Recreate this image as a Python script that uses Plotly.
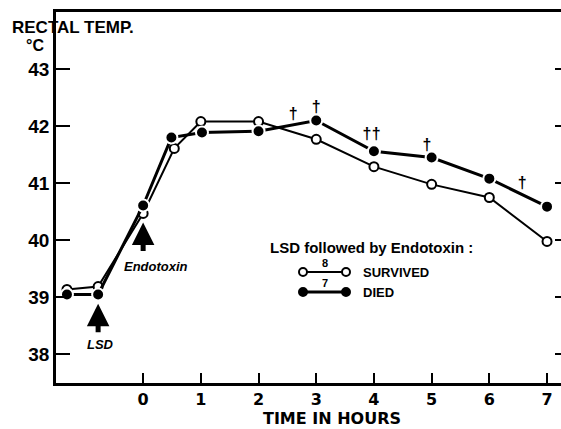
import plotly.graph_objects as go

# ---- data ----
hours_survived = [-1.32, -0.78, 0.0, 0.54, 1.0, 2.0, 3.0, 4.0, 5.0, 6.0, 7.0]
temp_survived = [39.14, 39.19, 40.47, 41.61, 42.08, 42.08, 41.77, 41.29, 40.98, 40.75, 39.98]

hours_died = [-1.32, -0.78, 0.0, 0.49, 1.02, 2.0, 3.0, 4.0, 5.0, 6.0, 7.0]
temp_died = [39.05, 39.05, 40.61, 41.80, 41.89, 41.91, 42.10, 41.56, 41.45, 41.08, 40.59]

death_hours = [2.6, 3.0, 3.88, 4.04, 4.92, 6.57]
death_marks_y = [42.19, 42.31, 41.84, 41.84, 41.66, 40.99]

x_ticks = [0, 1, 2, 3, 4, 5, 6, 7]
y_ticks = [38, 39, 40, 41, 42, 43]

lsd_time = -0.78
endotoxin_time = 0.0

FONT = "Liberation Sans"
FONT2 = "DejaVu Sans"
W, H = 561, 429
L, R, T, B = 56, 0, 12, 46
PW, PH = W - L - R, H - T - B


def px(xp):
    return (xp - L) / PW


def py(yp):
    return (H - B - yp) / PH


fig = go.Figure()

fig.add_trace(go.Scatter(
    x=hours_survived, y=temp_survived, mode="lines+markers",
    line=dict(color="black", width=2),
    marker=dict(symbol="circle", size=9, color="white",
                line=dict(color="black", width=2)),
    showlegend=False, cliponaxis=False))

fig.add_trace(go.Scatter(
    x=hours_died, y=temp_died, mode="lines+markers",
    line=dict(color="black", width=3),
    marker=dict(symbol="circle", size=12, color="black",
                line=dict(color="white", width=2)),
    showlegend=False, cliponaxis=False))

fig.add_trace(go.Scatter(
    x=death_hours, y=death_marks_y, mode="text", text=["†"] * len(death_hours),
    textfont=dict(family=FONT, size=16, color="black", weight="bold"),
    yaxis="y2", showlegend=False))

# arrows for LSD and endotoxin
for t, tip, lab, laby in [(lsd_time, 38.89, "LSD", 38.17),
                          (endotoxin_time, 40.31, "Endotoxin", 39.54)]:
    fig.add_annotation(x=t, y=tip, ax=0, ay=30, xref="x", yref="y",
                       showarrow=True, arrowhead=2, arrowsize=0.9,
                       arrowwidth=5, arrowcolor="black", text="")
    fig.add_annotation(x=t + (0.04 if lab == "LSD" else 0.22), y=laby,
                       xref="x", yref="y", showarrow=False, text=lab,
                       font=dict(family=FONT, size=13, color="black",
                                 style="italic", weight="bold"))

# legend (drawn manually) and axis titles
ann = [
    ("LSD followed by Endotoxin :", 268, 247, 15, "left", FONT),
    ("8", 325, 263, 11, "center", FONT),
    ("7", 325, 283, 11, "center", FONT),
    ("SURVIVED", 361, 272, 13, "left", FONT),
    ("DIED", 361, 292, 13, "left", FONT),
    ("RECTAL TEMP.", 10, 27, 17, "left", FONT),
    ("°C", 24, 45, 16, "left", FONT),
    ("TIME IN HOURS", 332, 419, 16, "center", FONT2),
]
for text, xp, yp, size, anc, fam in ann:
    fig.add_annotation(x=px(xp), y=py(yp), xref="paper", yref="paper",
                       text=text, showarrow=False, xanchor=anc, yanchor="middle",
                       font=dict(family=fam, size=size, color="black",
                                 weight="bold"))

for yp, filled, lw in [(272, False, 2), (292, True, 3)]:
    fig.add_shape(type="line", xref="paper", yref="paper",
                  x0=px(303), x1=px(346), y0=py(yp), y1=py(yp),
                  line=dict(color="black", width=lw))
    for xc in (303, 346):
        fig.add_shape(type="circle", xref="paper", yref="paper",
                      xsizemode="pixel", ysizemode="pixel",
                      xanchor=px(xc), yanchor=py(yp),
                      x0=-4, x1=4, y0=-4, y1=4,
                      fillcolor="black" if filled else "white",
                      line=dict(color="black", width=2))

xr = [-1.51, -1.51 + PW / 57.7]
yr = [37.5, 44.0]

fig.update_layout(
    width=W, height=H,
    margin=dict(l=L, r=R, t=T, b=B, autoexpand=False),
    paper_bgcolor="white", plot_bgcolor="white",
    font=dict(family=FONT, color="black"),
    xaxis=dict(range=xr, tickvals=x_ticks, ticks="inside", ticklen=10,
               tickwidth=2, tickcolor="black", showline=True, linewidth=2.5,
               linecolor="black", mirror=True, showgrid=False, zeroline=False,
               automargin=False,
               tickfont=dict(family=FONT2, size=16, color="black", weight="bold")),
    yaxis=dict(range=yr, tickvals=y_ticks,
               ticks="inside", ticklen=14, tickwidth=2, tickcolor="black",
               showline=True, linewidth=2.5, linecolor="black",
               showgrid=False, zeroline=False, automargin=False,
               tickfont=dict(family=FONT, size=19, color="black", weight="bold")),
    yaxis2=dict(range=yr, overlaying="y", side="right", tickvals=y_ticks,
                ticks="inside", ticklen=6, tickwidth=2, tickcolor="black",
                showline=False, showticklabels=False, showgrid=False,
                zeroline=False, automargin=False),
)

fig.write_html(
    "out.html",
    config={"displayModeBar": False},
    post_script="document.body.style.margin='0';document.body.style.padding='0';"
                "document.body.style.overflow='hidden';",
)
